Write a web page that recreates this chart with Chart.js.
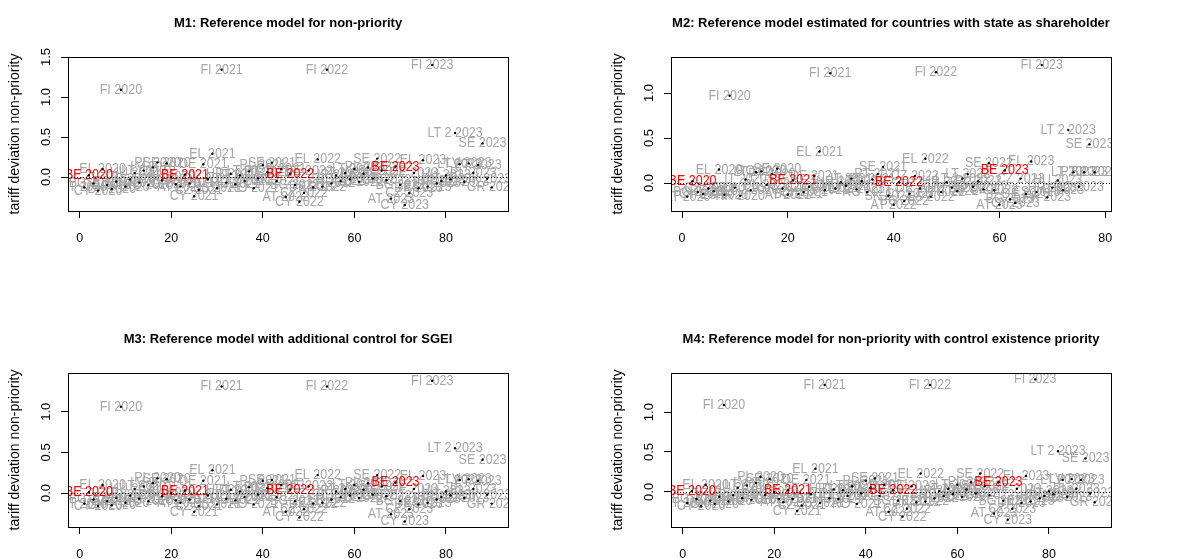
<!DOCTYPE html>
<html>
<head>
<meta charset="utf-8">
<script src="https://cdn.jsdelivr.net/npm/chart.js@4.4.1/dist/chart.umd.min.js"></script>
<style>
  body { margin: 0; background: #fff; width: 1180px; height: 559px; overflow: hidden; position: relative; }
  canvas { position: absolute; }
</style>
</head>
<body>
<canvas id="m1" width="590" height="280" style="left:0;top:0"></canvas>
<canvas id="m2" width="590" height="280" style="left:590px;top:0"></canvas>
<canvas id="m3" width="590" height="279" style="left:0;top:280px"></canvas>
<canvas id="m4" width="590" height="279" style="left:590px;top:280px"></canvas>
<script>
// country codes per year (order as plotted)
const codes2020 = ["AT","BE","BG","CY","EL","DE","DK","ES","FI","FR","HR","HU","IT","LT","RO","LV","PL","PT","SE","SK","GR"];
const codesYear = ["AT","BE","BG","CY","CZ","DE","DK","EL","ES","FI","FR","HR","HU","IT","LT 2","LT","RO","LV","PL","PT","SE","SK","GR"];
const codesM2_2020 = ["AT","BE","BG","CY","CZ","DE","EL","ES","FI","FR","HR","IT","LT 2","LT","RO","PL","PT","SE","SK"];
const codesM2 = ["AT","BE","BG","CY","CZ","DE","EL","ES","FI","FR","HR","HU","IT","LT 2","LT","RO","PL","PT","SE","SK"];
const codesM2_2023 = ["AT","BE","BG","CY","CZ","DE","EL","ES","FI","FR","HR","HU","IT","LT 2","LT","RO","PT","SE","SK"];

const labelsFull = [
  ...codes2020.map(c => c + " 2020"),
  ...codesYear.map(c => c + " 2021"),
  ...codesYear.map(c => c + " 2022"),
  ...codesYear.map(c => c + " 2023"),
];
const labelsM2 = [
  ...codesM2_2020.map(c => c + " 2020"),
  ...codesM2.map(c => c + " 2021"),
  ...codesM2.map(c => c + " 2022"),
  ...codesM2_2023.map(c => c + " 2023"),
];

// tariff deviation non-priority
const valuesM1 = [
  -0.13, 0.02, -0.08, -0.17, 0.10, -0.10, -0.15, -0.06, 1.09, -0.12, -0.03, 0.05, -0.07, 0.08, -0.10, 0.12, 0.18, -0.04, 0.17, 0.00, -0.09,
  -0.12, 0.03, -0.08, -0.24, -0.16, 0.16, -0.03, 0.29, -0.14, 1.34, -0.07, 0.04, -0.09, 0.02, -0.05, 0.07, -0.14, -0.02, 0.15, 0.06, 0.18, -0.05, 0.10,
  -0.25, 0.04, -0.10, -0.31, -0.20, 0.08, -0.13, 0.22, -0.12, 1.34, -0.08, 0.02, -0.05, 0.05, -0.03, 0.10, -0.06, 0.04, 0.12, -0.02, 0.23, 0.08, -0.04,
  -0.27, 0.13, -0.10, -0.35, -0.20, 0.05, -0.14, 0.21, -0.12, 1.40, -0.08, -0.05, 0.02, -0.03, 0.55, 0.16, -0.06, 0.17, 0.05, 0.15, 0.42, -0.02, -0.13,
];
const valuesM2 = [
  -0.15, 0.02, -0.10, -0.12, -0.06, -0.09, 0.15, -0.13, 0.97, -0.05, -0.14, 0.04, -0.08, 0.12, 0.13, -0.02, 0.10, 0.16, -0.06,
  -0.13, 0.03, -0.12, -0.10, -0.04, 0.08, 0.35, -0.08, 1.22, -0.06, 0.01, -0.03, 0.05, -0.07, 0.02, -0.10, 0.04, 0.10, 0.18, -0.14,
  -0.24, 0.01, -0.20, -0.12, 0.08, -0.06, 0.27, -0.15, 1.23, -0.10, 0.01, -0.05, -0.09, 0.05, 0.10, -0.04, 0.02, -0.07, 0.22, -0.08,
  -0.24, 0.14, -0.18, -0.22, 0.05, -0.12, 0.24, -0.10, 1.31, -0.16, -0.05, 0.03, -0.08, 0.59, 0.12, -0.04, 0.12, 0.43, 0.12,
];
const valuesM3 = [
  -0.13, 0.01, -0.08, -0.16, 0.10, -0.10, -0.15, -0.06, 1.06, -0.12, -0.03, 0.05, -0.07, 0.08, -0.10, 0.12, 0.18, -0.04, 0.17, 0.00, -0.09,
  -0.12, 0.03, -0.08, -0.23, -0.16, 0.15, -0.03, 0.28, -0.14, 1.31, -0.07, 0.04, -0.09, 0.02, -0.05, 0.07, -0.14, -0.02, 0.15, 0.06, 0.16, -0.05, 0.10,
  -0.23, 0.04, -0.10, -0.30, -0.20, 0.08, -0.13, 0.22, -0.12, 1.31, -0.08, 0.02, -0.05, 0.05, -0.03, 0.10, -0.06, 0.04, 0.12, -0.02, 0.22, 0.08, -0.04,
  -0.26, 0.13, -0.10, -0.35, -0.20, 0.05, -0.14, 0.21, -0.12, 1.38, -0.08, -0.05, 0.02, -0.03, 0.55, 0.16, -0.06, 0.17, 0.05, 0.15, 0.41, -0.02, -0.13,
];
const valuesM4 = [
  -0.14, 0.01, -0.09, -0.18, 0.09, -0.11, -0.15, -0.06, 1.09, -0.12, -0.04, 0.05, -0.08, 0.08, -0.10, 0.11, 0.19, -0.04, 0.16, 0.00, -0.09,
  -0.13, 0.02, -0.09, -0.24, -0.17, 0.15, -0.03, 0.29, -0.14, 1.34, -0.08, 0.03, -0.09, 0.02, -0.05, 0.07, -0.15, -0.02, 0.14, 0.05, 0.17, -0.05, 0.09,
  -0.25, 0.02, -0.11, -0.31, -0.21, 0.07, -0.13, 0.23, -0.12, 1.34, -0.08, 0.01, -0.05, 0.04, -0.03, 0.09, -0.06, 0.03, 0.12, -0.02, 0.23, 0.07, -0.04,
  -0.27, 0.12, -0.11, -0.35, -0.21, 0.04, -0.14, 0.20, -0.12, 1.41, -0.08, -0.05, 0.01, -0.03, 0.51, 0.15, -0.06, 0.16, 0.04, 0.15, 0.42, -0.02, -0.13,
];

const xTicks = [0, 20, 40, 60, 80];
const yTicksM1 = [0, 0.5, 1, 1.5];
const yTicksOther = [0, 0.5, 1];

Chart.defaults.font.family = "'Liberation Sans', Arial, sans-serif";
Chart.defaults.color = "#000";

// text labels at each point, zero line, box
const labelPlugin = {
  id: "pointLabels",
  beforeDatasetsDraw(chart) {
    const { ctx, chartArea: a, scales } = chart;
    const ds = chart.data.datasets[0];
    const labels = chart.data.labels;
    ctx.save();
    ctx.beginPath();
    ctx.rect(a.left, a.top, a.right - a.left, a.bottom - a.top);
    ctx.clip();
    ctx.font = "12.5px 'Liberation Sans', Arial, sans-serif";
    ctx.textAlign = "center";
    ctx.textBaseline = "middle";
    const drawSet = (red) => {
      ds.data.forEach((p, i) => {
        const isBE = labels[i].startsWith("BE ");
        if (isBE !== red) return;
        const px = scales.x.getPixelForValue(p.x);
        const py = scales.y.getPixelForValue(p.y);
        ctx.save();
        ctx.translate(px, py);
        ctx.scale(1, 1.15);
        ctx.fillStyle = red ? "#ff0000" : "#a6a6a6";
        ctx.fillText(labels[i], 0, 0);
        ctx.restore();
      });
    };
    drawSet(false);
    drawSet(true);
    // dotted line at zero
    const y0 = Math.round(scales.y.getPixelForValue(0)) + 0.5;
    ctx.strokeStyle = "#000";
    ctx.lineWidth = 1;
    ctx.setLineDash([1, 2]);
    ctx.beginPath();
    ctx.moveTo(a.left, y0);
    ctx.lineTo(a.right, y0);
    ctx.stroke();
    ctx.restore();
  },
  afterDraw(chart) {
    const { ctx, chartArea: a } = chart;
    ctx.save();
    ctx.strokeStyle = "#000";
    ctx.lineWidth = 1;
    ctx.strokeRect(Math.round(a.left) + 0.5, Math.round(a.top) + 0.5,
      Math.round(a.right - a.left), Math.round(a.bottom - a.top));
    ctx.restore();
  },
};

function makePanel(id, title, labels, values, cfg) {
  const points = values.map((v, i) => ({ x: i + 1, y: v }));
  return new Chart(document.getElementById(id), {
    type: "scatter",
    data: {
      labels: labels,
      datasets: [{
        data: points,
        pointRadius: 1.2,
        pointBackgroundColor: "#000",
        pointBorderWidth: 0,
      }],
    },
    options: {
      responsive: false,
      animation: false,
      layout: { padding: { left: 0, right: cfg.rightPad, top: 0, bottom: 0 } },
      plugins: {
        legend: { display: false },
        tooltip: { enabled: false },
        title: {
          display: true,
          text: title,
          fullSize: false,
          color: "#000",
          font: { size: 13, weight: "bold" },
          padding: { top: cfg.titleTop, bottom: cfg.titleBottom },
        },
      },
      scales: {
        x: {
          type: "linear",
          min: cfg.xMin,
          max: cfg.xMax,
          afterBuildTicks: (s) => { s.ticks = xTicks.map((v) => ({ value: v })); },
          afterFit: (s) => { s.height = cfg.xHeight; },
          border: { display: false },
          grid: { drawOnChartArea: false, drawTicks: true, tickLength: 7, color: "#000" },
          ticks: { color: "#000", font: { size: 12.5 }, padding: 13, maxRotation: 0, autoSkip: false,
                   callback: (v) => String(v) },
        },
        y: {
          type: "linear",
          min: cfg.yMin,
          max: cfg.yMax,
          afterBuildTicks: (s) => { s.ticks = cfg.yTicks.map((v) => ({ value: v })); },
          afterFit: (s) => { s.width = cfg.yWidth; },
          border: { display: false },
          grid: { drawOnChartArea: false, drawTicks: true, tickLength: 7, color: "#000" },
          ticks: { color: "#000", font: { size: 13 }, padding: 6, minRotation: 90, maxRotation: 90,
                   crossAlign: "center", autoSkip: false, callback: (v) => v.toFixed(1) },
          title: {
            display: true,
            text: "tariff deviation non-priority",
            color: "#000",
            font: { size: 14 },
            padding: { top: cfg.yTitlePad, bottom: 0 },
          },
        },
      },
    },
    plugins: [labelPlugin],
  });
}

makePanel("m1", "M1: Reference model for non-priority", labelsFull, valuesM1, {
  xMin: -2.56, xMax: 93.56, yMin: -0.425, yMax: 1.5, yTicks: yTicksM1,
  yWidth: 68, rightPad: 82, xHeight: 69, titleTop: 15.5, titleBottom: 25.9, yTitlePad: 6.6,
});
makePanel("m2", "M2: Reference model estimated for countries with state as shareholder", labelsM2, valuesM2, {
  xMin: -2.08, xMax: 81.08, yMin: -0.31, yMax: 1.40, yTicks: yTicksOther,
  yWidth: 81, rightPad: 69, xHeight: 69, titleTop: 15.5, titleBottom: 25.9, yTitlePad: 19.9,
});
makePanel("m3", "M3: Reference model with additional control for SGEI", labelsFull, valuesM3, {
  xMin: -2.56, xMax: 93.56, yMin: -0.418, yMax: 1.476, yTicks: yTicksOther,
  yWidth: 68, rightPad: 82, xHeight: 32, titleTop: 51.5, titleBottom: 25.9, yTitlePad: 6.6,
});
makePanel("m4", "M4: Reference model for non-priority with control existence priority", labelsFull, valuesM4, {
  xMin: -2.56, xMax: 93.56, yMin: -0.44, yMax: 1.49, yTicks: yTicksOther,
  yWidth: 81, rightPad: 69, xHeight: 32, titleTop: 51.5, titleBottom: 25.9, yTitlePad: 19.9,
});
</script>
</body>
</html>
